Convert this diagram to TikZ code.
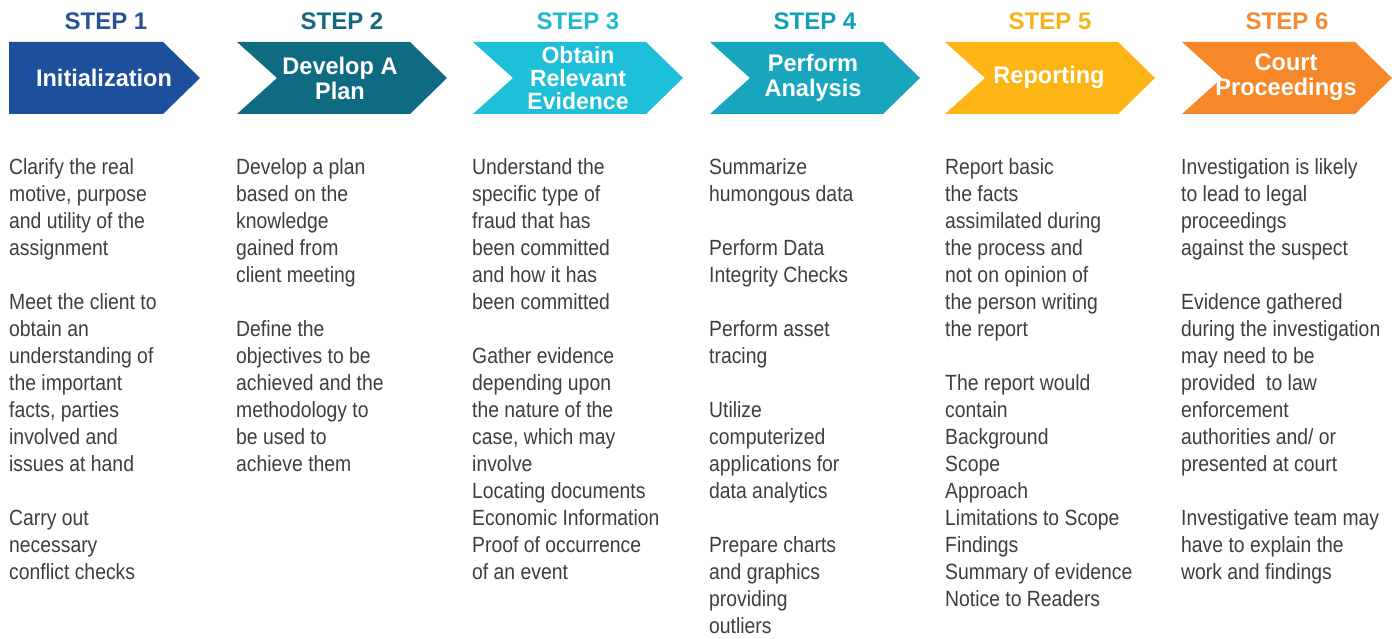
\documentclass[tikz,border=0pt]{standalone}
\usepackage{fontspec}
\setmainfont{Liberation Sans}
\newfontfamily\bodyfont[FakeStretch=0.88]{Liberation Sans}
\newfontfamily\arrowfont[FakeStretch=0.98]{Liberation Sans}
\newfontfamily\labelfont{Liberation Sans}
\definecolor{cA}{HTML}{1C4F9C}
\definecolor{cB}{HTML}{0F6B82}
\definecolor{cC}{HTML}{1EBFD8}
\definecolor{cD}{HTML}{17A6BE}
\definecolor{cE}{HTML}{FDB515}
\definecolor{cF}{HTML}{F7882A}
\definecolor{lA}{HTML}{2A5294}
\definecolor{lB}{HTML}{14677C}
\definecolor{lC}{HTML}{20B9D0}
\definecolor{lD}{HTML}{12A0B8}
\definecolor{lE}{HTML}{F6B31B}
\definecolor{lF}{HTML}{F58A33}
\definecolor{bodygray}{HTML}{3E3E3E}
\tikzset{
  steplabel/.style={font={\labelfont\bfseries\fontsize{24}{26}\selectfont}, anchor=base, inner sep=0pt},
  arrowtext/.style={font={\arrowfont\bfseries\fontsize{24}{25}\selectfont}, text=white, align=center, inner sep=0pt},
  bodytext/.style={font={\bodyfont\fontsize{22}{27}\selectfont}, text=bodygray, align=left, anchor=north west, inner sep=0pt}
}
\newcommand{\chev}[2]{% left x, color
  \fill[#2] (#1,42) -- (#1+173,42) -- (#1+210,78) -- (#1+173,114) -- (#1,114) -- (#1+40,78) -- cycle;}
\begin{document}
\begin{tikzpicture}[x=1pt,y=-1pt]
\useasboundingbox (0,0) rectangle (1399,639);
\fill[white] (0,0) rectangle (1399,639);

% arrows
\fill[cA] (9,42) -- (163,42) -- (200,78) -- (163,114) -- (9,114) -- cycle;
\chev{237}{cB}
\chev{473}{cC}
\chev{710}{cD}
\chev{945}{cE}
\chev{1182}{cF}

% step labels
\node[steplabel, text=lA] (s1) at (106,30) {STEP 1};
\node[steplabel, text=lB] (s2) at (342,30) {STEP 2};
\node[steplabel, text=lC] (s3) at (578,30) {STEP 3};
\node[steplabel, text=lD] (s4) at (815,30) {STEP 4};
\node[steplabel, text=lE] (s5) at (1050,30) {STEP 5};
\node[steplabel, text=lF] (s6) at (1287,30) {STEP 6};

% arrow texts
\node[arrowtext] (a1) at (104,78) {Initialization};
\node[arrowtext] (a2) at (340,78) {Develop A\\Plan};
\node[arrowtext, font={\arrowfont\bfseries\fontsize{23.5}{23}\selectfont}] (a3) at (578,78) {Obtain\\Relevant\\Evidence};
\node[arrowtext] (a4) at (813,78) {Perform\\Analysis};
\node[arrowtext] (a5) at (1049,77) {Reporting};
\node[arrowtext] (a6) at (1286,77) {Court\\Proceedings};

% body columns
\node[bodytext] (b1) at (9,158) {\rule{0pt}{16.5pt}Clarify the real\\motive, purpose\\and utility of the\\assignment\\[27pt]Meet the client to\\obtain an\\understanding of\\the important\\facts, parties\\involved and\\issues at hand\\[27pt]Carry out\\necessary\\conflict checks};

\node[bodytext] (b2) at (236,158) {\rule{0pt}{16.5pt}Develop a plan\\based on the\\knowledge\\gained from\\client meeting\\[27pt]Define the\\objectives to be\\achieved and the\\methodology to\\be used to\\achieve them};

\node[bodytext] (b3) at (472,158) {\rule{0pt}{16.5pt}Understand the\\specific type of\\fraud that has\\been committed\\and how it has\\been committed\\[27pt]Gather evidence\\depending upon\\the nature of the\\case, which may\\involve\\Locating documents\\Economic Information\\Proof of occurrence\\of an event};

\node[bodytext] (b4) at (709,158) {\rule{0pt}{16.5pt}Summarize\\humongous data\\[27pt]Perform Data\\Integrity Checks\\[27pt]Perform asset\\tracing\\[27pt]Utilize\\computerized\\applications for\\data analytics\\[27pt]Prepare charts\\and graphics\\providing\\outliers};

\node[bodytext] (b5) at (945,158) {\rule{0pt}{16.5pt}Report basic\\the facts\\assimilated during\\the process and\\not on opinion of\\the person writing\\the report\\[27pt]The report would\\contain\\Background\\Scope\\Approach\\Limitations to Scope\\Findings\\Summary of evidence\\Notice to Readers};

\node[bodytext] (b6) at (1181,158) {\rule{0pt}{16.5pt}Investigation is likely\\to lead to legal\\proceedings\\against the suspect\\[27pt]Evidence gathered\\during the investigation\\may need to be\\provided\ \ to law\\enforcement\\authorities and/ or\\presented at court\\[27pt]Investigative team may\\have to explain the\\work and findings};
\end{tikzpicture}
\end{document}
